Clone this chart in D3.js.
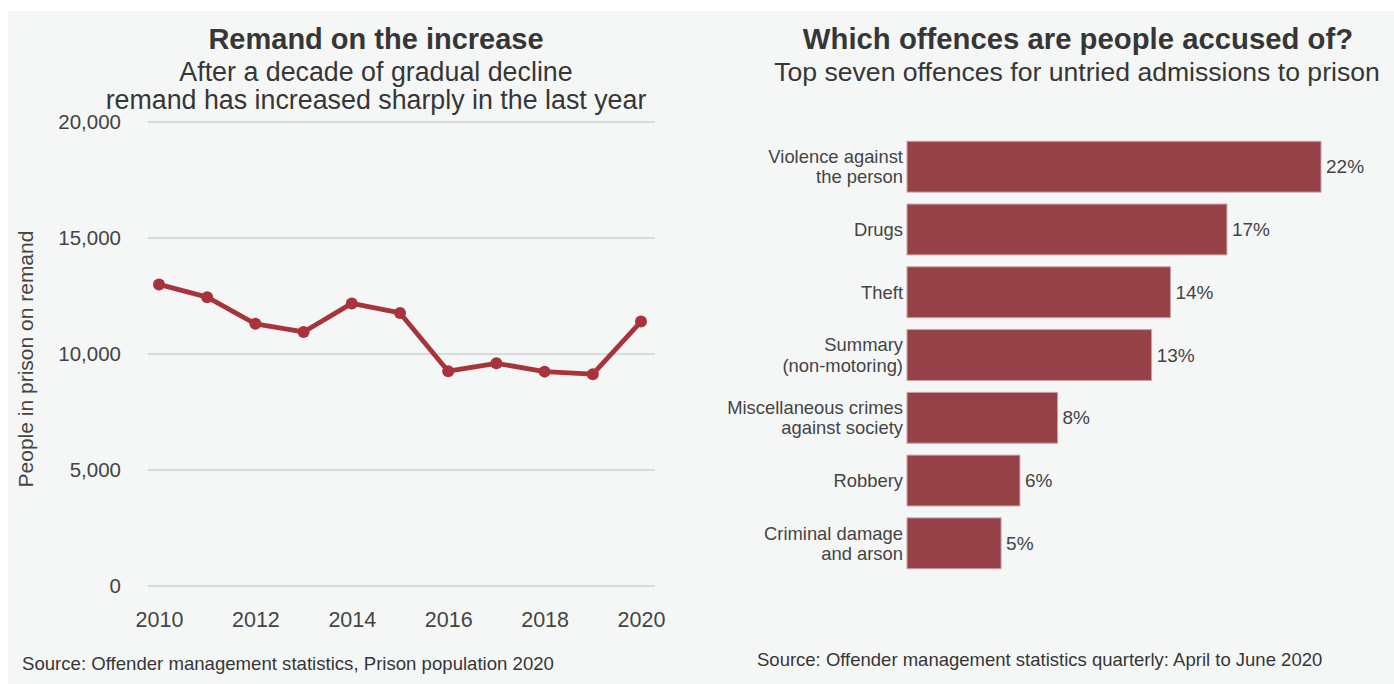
<!DOCTYPE html>
<html>
<head>
<meta charset="utf-8">
<script src="https://cdn.jsdelivr.net/npm/d3@7"></script>
<style>
  html, body { margin: 0; padding: 0; background: #ffffff; }
  svg { display: block; font-family: "Liberation Sans", Arial, sans-serif; }
</style>
</head>
<body>
<svg id="chart" width="1394" height="684"></svg>
<script>
// Remand population, England and Wales
const years = [2010, 2011, 2012, 2013, 2014, 2015, 2016, 2017, 2018, 2019, 2020];
const remand = [13000, 12450, 11300, 10950, 12180, 11770, 9260, 9600, 9240, 9130, 11400];
const remandTicks = [0, 5000, 10000, 15000, 20000];
const yearTicks = [2010, 2012, 2014, 2016, 2018, 2020];

// Offences for untried admissions (share, %)
const offences = [
  ["Violence against", "the person"],
  ["Drugs"],
  ["Theft"],
  ["Summary", "(non-motoring)"],
  ["Miscellaneous crimes", "against society"],
  ["Robbery"],
  ["Criminal damage", "and arson"]
];
const offenceShares = [22, 17, 14, 13, 8, 6, 5];

const svg = d3.select("#chart");
const ink = "#363636";
const red = "#a8333b";
const barRed = "#964047";

// panel background
svg.append("rect").attr("x", 8).attr("y", 11).attr("width", 1386).attr("height", 673)
  .attr("fill", "#f5f7f7");

// ---------- left: line chart ----------
const left = svg.append("g");
left.append("text").attr("x", 376).attr("y", 49).attr("text-anchor", "middle")
  .attr("font-size", 29).attr("font-weight", "bold").attr("fill", ink)
  .text("Remand on the increase");
left.append("text").attr("x", 376).attr("y", 81).attr("text-anchor", "middle")
  .attr("font-size", 26.8).attr("fill", ink)
  .text("After a decade of gradual decline");
left.append("text").attr("x", 376).attr("y", 109).attr("text-anchor", "middle")
  .attr("font-size", 26.8).attr("fill", ink)
  .text("remand has increased sharply in the last year");

const x = d3.scaleLinear().domain([2010, 2020]).range([159, 641]);
const y = d3.scaleLinear().domain([0, 20000]).range([586, 122]);

const yAxis = d3.axisLeft(y).tickValues(remandTicks).tickSize(0).tickPadding(0)
  .tickFormat(d3.format(","));
const gy = left.append("g").attr("transform", "translate(121,0)").call(yAxis);
gy.select(".domain").remove();
gy.selectAll("text").attr("font-size", 20.5).attr("fill", "#444").attr("font-family", "Liberation Sans, Arial, sans-serif");

left.append("g").selectAll("line").data(remandTicks).join("line")
  .attr("x1", 148).attr("x2", 655)
  .attr("y1", d => y(d)).attr("y2", d => y(d))
  .attr("stroke", "#cfd0d0").attr("stroke-width", 1.6);

const xAxis = d3.axisBottom(x).tickValues(yearTicks).tickSize(0).tickPadding(0)
  .tickFormat(d3.format("d"));
const gx = left.append("g").attr("transform", "translate(0,612)").call(xAxis);
gx.select(".domain").remove();
gx.selectAll("text").attr("font-size", 21.5).attr("fill", "#444").attr("font-family", "Liberation Sans, Arial, sans-serif");

left.append("text")
  .attr("transform", "translate(33,359) rotate(-90)")
  .attr("text-anchor", "middle").attr("font-size", 21).attr("fill", "#444")
  .text("People in prison on remand");

const pts = years.map((yr, i) => [yr, remand[i]]);
left.append("path").datum(pts)
  .attr("fill", "none").attr("stroke", red).attr("stroke-width", 4.8)
  .attr("stroke-linejoin", "round")
  .attr("d", d3.line().x(d => x(d[0])).y(d => y(d[1])));
left.append("g").selectAll("circle").data(pts).join("circle")
  .attr("cx", d => x(d[0])).attr("cy", d => y(d[1])).attr("r", 6)
  .attr("fill", red);

left.append("text").attr("x", 22).attr("y", 670)
  .attr("font-size", 18.6).attr("fill", ink)
  .text("Source: Offender management statistics, Prison population 2020");

// ---------- right: bar chart ----------
const right = svg.append("g");
right.append("text").attr("x", 1078).attr("y", 49).attr("text-anchor", "middle")
  .attr("font-size", 29.3).attr("font-weight", "bold").attr("fill", ink)
  .text("Which offences are people accused of?");
right.append("text").attr("x", 1077).attr("y", 81).attr("text-anchor", "middle")
  .attr("font-size", 26.6).attr("fill", ink)
  .text("Top seven offences for untried admissions to prison");

const bx = d3.scaleLinear().domain([0, 22]).range([907, 1321]);
const by = d3.scaleBand().domain(d3.range(offences.length)).range([135, 575])
  .paddingInner(0.19).paddingOuter(0.1);

right.append("g").selectAll("rect").data(offenceShares).join("rect")
  .attr("x", bx(0)).attr("y", (d, i) => by(i))
  .attr("width", d => bx(d) - bx(0)).attr("height", by.bandwidth())
  .attr("fill", barRed).attr("stroke", "#c9a3a5").attr("stroke-width", 1);

right.append("g").selectAll("text").data(offenceShares).join("text")
  .attr("x", d => bx(d) + 5).attr("y", (d, i) => by(i) + by.bandwidth() / 2)
  .attr("dy", "0.35em").attr("font-size", 19).attr("fill", "#444")
  .text(d => d + "%");

const labels = right.append("g").selectAll("text").data(offences).join("text")
  .attr("text-anchor", "end").attr("font-size", 18.4).attr("fill", "#444")
  .attr("x", 903)
  .attr("y", (d, i) => by(i) + by.bandwidth() / 2);
labels.selectAll("tspan").data(d => d.map((t, k) => ({ t, k, n: d.length }))).join("tspan")
  .attr("x", 903)
  .attr("dy", (d) => d.k === 0 ? (0.35 - (d.n - 1) * 0.55) + "em" : "1.1em")
  .text(d => d.t);

right.append("text").attr("x", 757).attr("y", 666)
  .attr("font-size", 18.5).attr("fill", ink)
  .text("Source: Offender management statistics quarterly: April to June 2020");
</script>
</body>
</html>
